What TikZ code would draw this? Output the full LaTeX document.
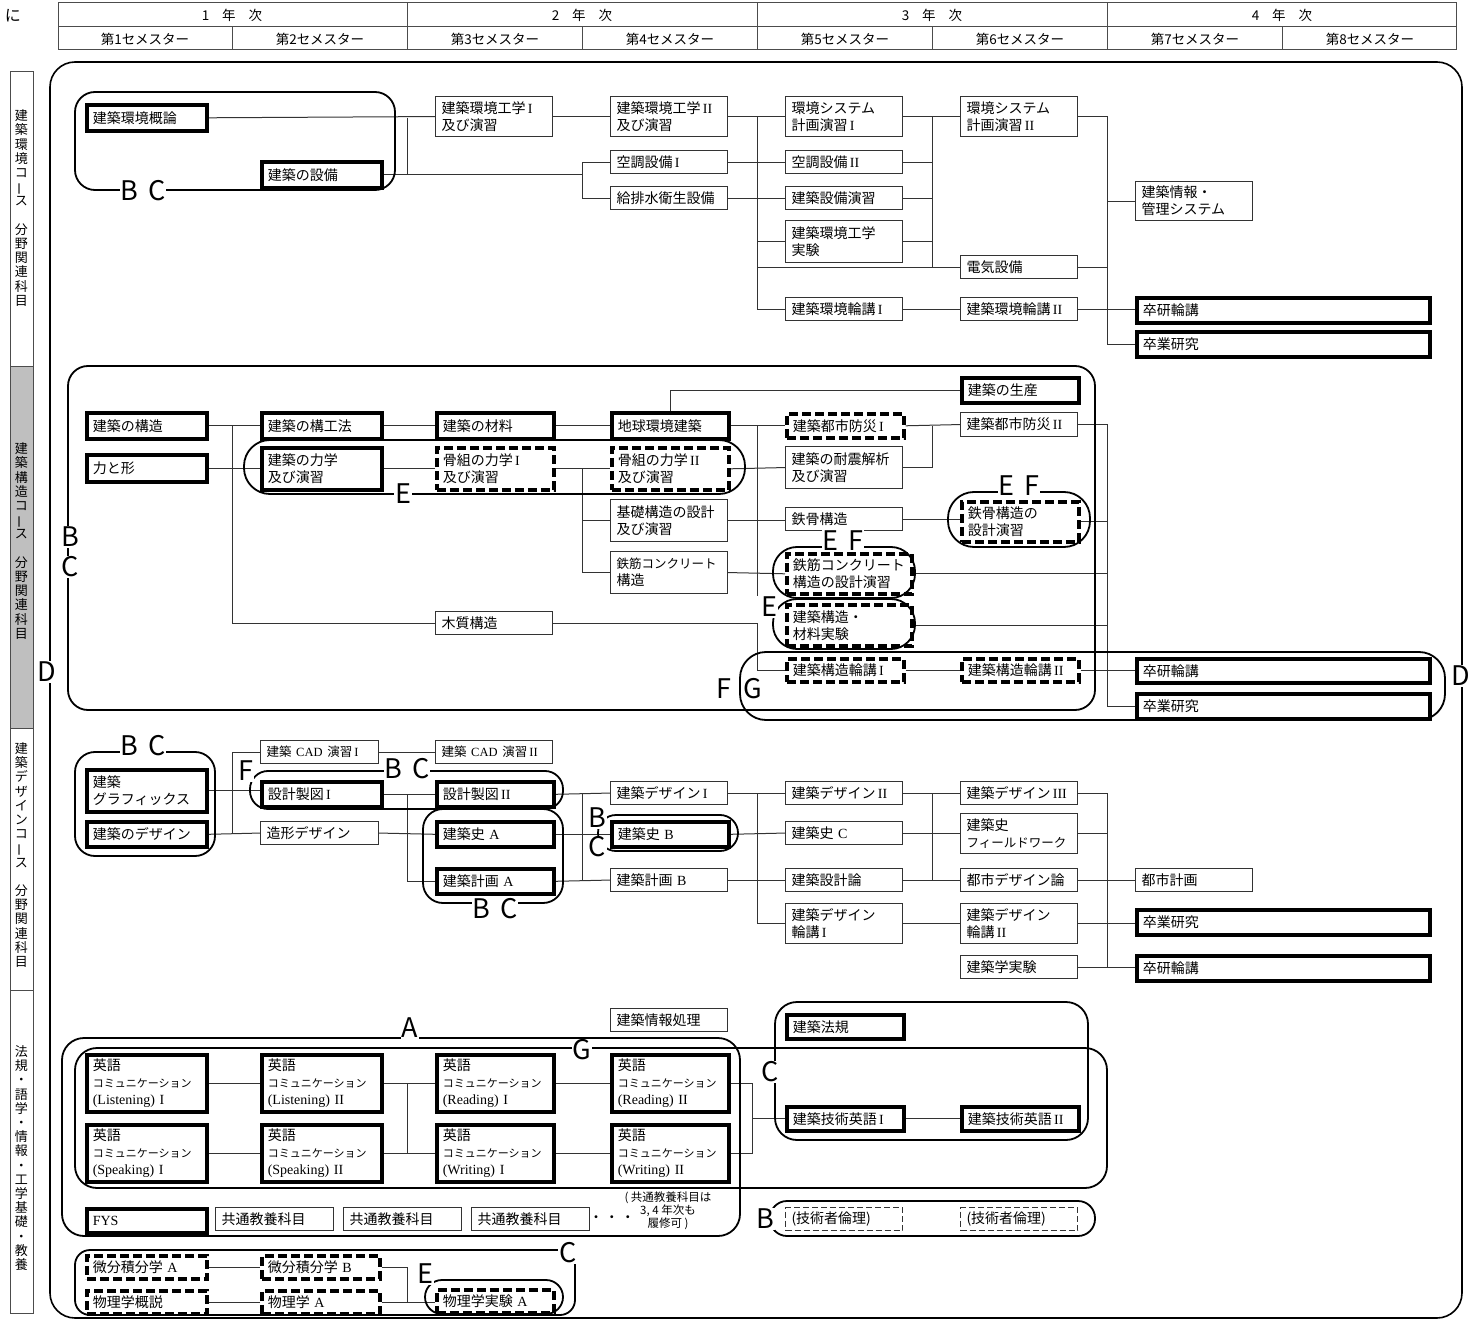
\documentclass[tikz,border=0pt]{standalone}
\usepackage{fontspec}
\setmainfont{Noto Sans CJK JP}
\newfontfamily\lat{Liberation Serif}
\pgfdeclarelayer{bg}
\pgfsetlayers{bg,main}
\newcommand\bxf{\fontsize{14}{17}\selectfont}
\newcommand\smf{\fontsize{11}{17}\selectfont}
\newcommand\narf{\fontsize{12.5}{17}\selectfont}
\newcommand\lblf{\fontsize{27}{27}\selectfont}
\newcommand\rnI{{\lat\,I}}
\newcommand\rnII{{\lat\,II}}
\newcommand\rnIII{{\lat\,III}}
\newcommand\myvbar{\rotatebox[origin=c]{90}{ー}}
\newcommand\bx[7]{%
 \pgfmathsetmacro\bxtw{#5-12}%
 \node[#1,anchor=north west,minimum width=#5pt,minimum height=#6pt,text width=\bxtw pt,align=left,inner xsep=6pt,inner ysep=0pt] (#2) at (#3,#4) {#7};}
\tikzset{
 tn/.style={draw=black!80, line width=1.1pt, fill=white, font=\bxf},
 tk/.style={draw=black, line width=3.6pt, fill=white, font=\bxf},
 ds/.style={draw=black, line width=3.6pt, dash pattern=on 9pt off 4pt, fill=white, font=\bxf},
 dt/.style={draw=black!80, line width=1pt, dash pattern=on 6pt off 3pt, fill=white, font=\bxf},
 cn/.style={draw=black!80, line width=1pt},
 grp/.style={draw=black, line width=1.8pt},
 lbl/.style={fill=white, inner sep=1pt, font=\lblf},
 hdl/.style={draw=black!70, line width=1pt},
 hdt/.style={font=\fontsize{13.5}{15}\selectfont, inner sep=0pt},
 vt/.style={font=\fontsize{13}{14.2}\selectfont, align=center, inner sep=0pt},
}
\begin{document}
\begin{tikzpicture}[x=1pt,y=-1pt]
\useasboundingbox (0,0) rectangle (1468,1321);
% junction coordinates
\coordinate (jz) at (232,0);
\coordinate (ja) at (407,0);
\coordinate (jb) at (582,0);
\coordinate (jc) at (757,0);
\coordinate (jd) at (932,0);
\coordinate (je) at (1107,0);
\coordinate (jf) at (752,0);

% ---------- header ----------
\node[hdt, font=\fontsize{16}{16}\selectfont] (lead) at (13,16) {に};
\draw[hdl] (58,3) rectangle (1456,50);
\draw[hdl] (58,27) -- (1456,27);
\foreach \x in {407,757,1107} \draw[hdl] (\x,3) -- (\x,50);
\foreach \x in {232,582,932,1282} \draw[hdl] (\x,27) -- (\x,50);
\node[hdt] (y1) at (232,15) {1\hspace{13pt}年\hspace{13pt}次};
\node[hdt] (y2) at (582,15) {2\hspace{13pt}年\hspace{13pt}次};
\node[hdt] (y3) at (932,15) {3\hspace{13pt}年\hspace{13pt}次};
\node[hdt] (y4) at (1282,15) {4\hspace{13pt}年\hspace{13pt}次};
\node[hdt] (s1) at (145,39) {第1セメスター};
\node[hdt] (s2) at (320,39) {第2セメスター};
\node[hdt] (s3) at (495,39) {第3セメスター};
\node[hdt] (s4) at (670,39) {第4セメスター};
\node[hdt] (s5) at (845,39) {第5セメスター};
\node[hdt] (s6) at (1020,39) {第6セメスター};
\node[hdt] (s7) at (1195,39) {第7セメスター};
\node[hdt] (s8) at (1370,39) {第8セメスター};

% ---------- sidebar ----------
\draw[hdl] (10,72) rectangle (33,367);
\draw[hdl, fill=black!25] (10,367) rectangle (33,728);
\draw[hdl] (10,728) rectangle (33,990);
\draw[hdl] (10,990) rectangle (33,1313);
\node[vt] (v1) at (21.5,208) {建\\築\\環\\境\\コ\\\myvbar\\ス\\~\\分\\野\\関\\連\\科\\目};
\node[vt] (v2) at (21.5,541) {建\\築\\構\\造\\コ\\\myvbar\\ス\\~\\分\\野\\関\\連\\科\\目};
\node[vt] (v3) at (21.5,855) {建\\築\\デ\\ザ\\イ\\ン\\コ\\\myvbar\\ス\\~\\分\\野\\関\\連\\科\\目};
\node[vt] (v4) at (21.5,1158) {法\\規\\・\\語\\学\\・\\情\\報\\・\\工\\学\\基\\礎\\・\\教\\養};

% ---------- outer D ----------
\draw[grp, line width=1.6pt, rounded corners=25pt] (50,62) rectangle (1462,1318);

% ---------- section 1 ----------
\bx{tk}{kg}{85}{103}{120}{26}{建築環境概論}
\bx{tk}{setsubi}{260}{160}{120}{26}{建築の設備}
\bx{tn}{kk1}{435}{96}{117}{40}{建築環境工学\rnI\\及び演習}
\bx{tn}{kk2}{610}{96}{117}{40}{建築環境工学\rnII\\及び演習}
\bx{tn}{ku1}{610}{150}{117}{23}{空調設備\rnI}
\bx{tn}{kyu}{610}{186}{117}{23}{給排水衛生設備}
\bx{tn}{ks1}{785}{96}{117}{40}{環境システム\\計画演習\rnI}
\bx{tn}{ku2}{785}{150}{117}{23}{空調設備\rnII}
\bx{tn}{sen}{785}{186}{117}{23}{建築設備演習}
\bx{tn}{kjk}{785}{220}{117}{42}{建築環境工学\\実験}
\bx{tn}{kr1}{785}{297}{117}{23}{建築環境輪講\rnI}
\bx{tn}{ks2}{960}{96}{117}{40}{環境システム\\計画演習\rnII}
\bx{tn}{den}{960}{255}{117}{23}{電気設備}
\bx{tn}{kr2}{960}{297}{117}{23}{建築環境輪講\rnII}
\bx{tn}{jkan}{1135}{181}{117}{39}{建築情報・\\管理システム}
\bx{tk}{sr1}{1135}{296}{293}{25}{卒研輪講}
\bx{tk}{sk1}{1135}{330}{293}{25}{卒業研究}

% ---------- section 2 ----------
\bx{tk}{kz}{85}{411}{120}{26}{建築の構造}
\bx{tk}{chk}{85}{453}{120}{27}{力と形}
\bx{tk}{kkh}{260}{411}{120}{26}{建築の構工法}
\bx{tk}{rk}{260}{446}{120}{42}{建築の力学\\及び演習}
\bx{tk}{zr}{435}{411}{117}{26}{建築の材料}
\bx{ds}{hr1}{435}{446}{117}{42}{骨組の力学\rnI\\及び演習}
\bx{tk}{ck}{610}{411}{117}{26}{地球環境建築}
\bx{ds}{hr2}{610}{446}{117}{42}{骨組の力学\rnII\\及び演習}
\bx{tn}{kso}{610}{499}{117}{42}{基礎構造の設計\\及び演習}
\bx{tn}{rc}{610}{551}{117}{42}{{\narf 鉄筋コンクリート}\\構造}
\bx{tn}{mok}{435}{611}{117}{23}{木質構造}
\bx{tk}{sei}{960}{376}{117}{25}{建築の生産}
\bx{ds}{bo1}{785}{412}{117}{24}{建築都市防災\rnI}
\bx{tn}{bo2}{960}{412}{117}{24}{建築都市防災\rnII}
\bx{tn}{tai}{785}{446}{117}{42}{建築の耐震解析\\及び演習}
\bx{tn}{tekk}{785}{507}{117}{23}{鉄骨構造}
\bx{ds}{tks}{960}{500}{117}{40}{鉄骨構造の\\設計演習}
\bx{ds}{rcs}{785}{552}{125}{40}{鉄筋コンクリート\\構造の設計演習}
\bx{ds}{jik}{785}{603}{125}{41}{建築構造・\\材料実験}
\bx{ds}{kr1s}{785}{657}{117}{23}{建築構造輪講\rnI}
\bx{ds}{kr2s}{960}{657}{117}{23}{建築構造輪講\rnII}
\bx{tk}{sr2}{1135}{657}{293}{24}{卒研輪講}
\bx{tk}{sk2}{1135}{692}{293}{25}{卒業研究}

% ---------- section 3 ----------
\bx{tk}{gra}{85}{768}{120}{42}{建築\\グラフィックス}
\bx{tk}{kde}{85}{820}{120}{25}{建築のデザイン}
\bx{tn}{cad1}{260}{740}{118}{23}{\mbox{\narf 建築{\lat\ CAD\ }演習\rnI}}
\bx{tn}{cad2}{435}{740}{117}{23}{\mbox{\narf 建築{\lat\ CAD\ }演習\rnII}}
\bx{tk}{sz1}{260}{780}{120}{25}{設計製図\rnI}
\bx{tk}{sz2}{435}{780}{117}{25}{設計製図\rnII}
\bx{tn}{zkd}{260}{821}{118}{23}{造形デザイン}
\bx{tk}{shA}{435}{820}{117}{25}{建築史{\lat\ A}}
\bx{tk}{kkA}{435}{867}{117}{25}{建築計画{\lat\ A}}
\bx{tn}{de1}{610}{781}{117}{23}{建築デザイン\rnI}
\bx{tk}{shB}{610}{820}{117}{25}{建築史{\lat\ B}}
\bx{tn}{kkB}{610}{868}{117}{23}{建築計画{\lat\ B}}
\bx{tn}{de2}{785}{781}{117}{23}{建築デザイン\rnII}
\bx{tn}{shC}{785}{821}{117}{23}{建築史{\lat\ C}}
\bx{tn}{sek}{785}{868}{117}{23}{建築設計論}
\bx{tn}{dr1}{785}{903}{117}{40}{建築デザイン\\輪講\rnI}
\bx{tn}{de3}{960}{781}{117}{23}{建築デザイン\rnIII}
\bx{tn}{fw}{960}{813}{117}{40}{建築史\\{\narf フィールドワーク}}
\bx{tn}{tdr}{960}{868}{117}{23}{都市デザイン論}
\bx{tn}{dr2}{960}{903}{117}{40}{建築デザイン\\輪講\rnII}
\bx{tn}{gj}{960}{955}{117}{23}{建築学実験}
\bx{tn}{tk2}{1135}{868}{117}{23}{都市計画}
\bx{tk}{sk3}{1135}{908}{293}{25}{卒業研究}
\bx{tk}{sr3}{1135}{954}{293}{25}{卒研輪講}

% ---------- section 4 ----------
\bx{tn}{jsh}{610}{1008}{117}{23}{建築情報処理}
\bx{tk}{eL1}{85}{1053}{120}{57}{英語\\{\smf コミュニケーション}\\{\lat (Listening) I}}
\bx{tk}{eL2}{260}{1053}{120}{57}{英語\\{\smf コミュニケーション}\\{\lat (Listening) II}}
\bx{tk}{eR1}{435}{1053}{117}{57}{英語\\{\smf コミュニケーション}\\{\lat (Reading) I}}
\bx{tk}{eR2}{610}{1053}{117}{57}{英語\\{\smf コミュニケーション}\\{\lat (Reading) II}}
\bx{tk}{eS1}{85}{1123}{120}{57}{英語\\{\smf コミュニケーション}\\{\lat (Speaking) I}}
\bx{tk}{eS2}{260}{1123}{120}{57}{英語\\{\smf コミュニケーション}\\{\lat (Speaking) II}}
\bx{tk}{eW1}{435}{1123}{117}{57}{英語\\{\smf コミュニケーション}\\{\lat (Writing) I}}
\bx{tk}{eW2}{610}{1123}{117}{57}{英語\\{\smf コミュニケーション}\\{\lat (Writing) II}}
\bx{tk}{ho}{785}{1013}{117}{24}{建築法規}
\bx{tk}{ge1}{785}{1105}{117}{24}{建築技術英語\rnI}
\bx{tk}{ge2}{960}{1105}{117}{24}{建築技術英語\rnII}
\bx{tk}{fys}{85}{1207}{120}{24}{{\lat FYS}}
\bx{tn}{ky1}{215}{1207}{118}{23}{共通教養科目}
\bx{tn}{ky2}{343}{1207}{118}{23}{共通教養科目}
\bx{tn}{ky3}{471}{1207}{118}{23}{共通教養科目}
\node[font=\bxf, inner sep=0pt] (dts) at (612,1219) {・\hspace{2pt}・\hspace{2pt}・};
\node[font=\fontsize{11.5}{13}\selectfont, align=center, inner sep=0pt] (nt) at (668,1211) {( 共通教養科目は\\3, 4 年次も\\履修可 )};
\bx{dt}{gr1}{785}{1207}{117}{23}{(技術者倫理)}
\bx{dt}{gr2}{960}{1207}{117}{23}{(技術者倫理)}
\bx{ds}{bA}{85}{1254}{120}{23}{微分積分学{\lat\ A}}
\bx{ds}{bB}{260}{1254}{118}{23}{微分積分学{\lat\ B}}
\bx{ds}{bg}{85}{1289}{120}{23}{物理学概説}
\bx{ds}{bfA}{260}{1289}{118}{23}{物理学{\lat\ A}}
\bx{ds}{bjA}{435}{1288}{117}{23}{物理学実験{\lat\ A}}

% ---------- connectors ----------
\begin{pgfonlayer}{bg}
% section 1
\draw[cn] (kg.east) -- (kk1.west);
\draw[cn] (kg.east -| ja) -- (setsubi.east -| ja);
\draw[cn] (setsubi.east) -- (setsubi.east -| jb);
\draw[cn] (ku1.west -| jb) -- (kyu.west -| jb);
\draw[cn] (ku1.west -| jb) -- (ku1.west);
\draw[cn] (kyu.west -| jb) -- (kyu.west);
\draw[cn] (kk1.east) -- (kk2.west);
\draw[cn] (kk2.east) -- (ks1.west);
\draw[cn] (ku1.east) -- (ku2.west);
\draw[cn] (kyu.east) -- (sen.west);
\draw[cn] (kk2.east -| jc) -- (kr1.west -| jc) -- (kr1.west);
\draw[cn] (kjk.west -| jc) -- (kjk.west);
\draw[cn] (den.west -| jc) -- (den.west);
\draw[cn] (ks1.east) -- (ks2.west);
\draw[cn] (ks1.east -| jd) -- (den.west -| jd);
\draw[cn] (ku2.east) -- (ku2.east -| jd);
\draw[cn] (sen.east) -- (sen.east -| jd);
\draw[cn] (kjk.east) -- (kjk.east -| jd);
\draw[cn] (kr1.east) -- (kr2.west);
\draw[cn] (ks2.east) -- (ks2.east -| je) -- (sk1.west -| je) -- (sk1.west);
\draw[cn] (den.east) -- (den.east -| je);
\draw[cn] (kr2.east) -- (kr2.east -| sr1.west);
\draw[cn] (jkan.west -| je) -- (jkan.west);
% section 2
\draw[cn] (kz.east) -- (kkh.west);
\draw[cn] (kz.east -| jz) -- (mok.west -| jz) -- (mok.west);
\draw[cn] (chk.east) -- (chk.east -| rk.west);
\draw[cn] (kkh.east) -- (zr.west);
\draw[cn] (rk.east) -- (hr1.west);
\draw[cn] (zr.east) -- (ck.west);
\draw[cn] (hr1.east) -- (hr2.west);
\draw[cn] (hr1.east -| jb) -- (rc.west -| jb) -- (rc.west);
\draw[cn] (kso.west -| jb) -- (kso.west);
\draw[cn] (ck.north) -- (ck.north |- sei.west) -- (sei.west);
\draw[cn] (ck.east) -- (bo1.west);
\draw[cn] (ck.east -| jc) -- (rcs.south -| jc);
\draw[cn] (mok.east) -- (mok.east -| jc) -- (kr1s.west -| jc) -- (kr1s.west);
\draw[cn] (hr2.east) -- (tai.west);
\draw[cn] (kso.east) -- (kso.east -| tekk.west);
\draw[cn] (rc.east) -- (rcs.west);
\draw[cn] (bo1.east) -- (bo2.west);
\draw[cn] (bo1.east -| jd) -- (tai.east -| jd) -- (tai.east);
\draw[cn] (tekk.east) -- (tekk.east -| tks.west);
\draw[cn] (bo2.east) -- (bo2.east -| je) -- (sk2.west -| je) -- (sk2.west);
\draw[cn] (tks.east) -- (tks.east -| je);
\draw[cn] (rcs.east) -- (rcs.east -| je);
\draw[cn] (jik.east) -- (jik.east -| je);
\draw[cn] (kr1s.east) -- (kr2s.west);
\draw[cn] (kr2s.east) -- (kr2s.east -| sr2.west);
% section 3
\draw[cn] (gra.east) -- (gra.east -| sz1.west);
\draw[cn] (cad1.west -| jz) -- (kde.east -| jz);
\draw[cn] (cad1.west -| jz) -- (cad1.west);
\draw[cn] (kde.east) -- (zkd.west);
\draw[cn] (cad1.east) -- (cad2.west);
\draw[cn] (sz1.east) -- (sz2.west);
\draw[cn] (sz1.east -| ja) -- (kkA.west -| ja) -- (kkA.west);
\draw[cn] (zkd.east) -- (shA.west);
\draw[cn] (sz2.east) -- (de1.west);
\draw[cn] (sz2.east -| jb) -- (kkA.east -| jb);
\draw[cn] (shA.east) -- (shB.west);
\draw[cn] (kkA.east) -- (kkB.west);
\draw[cn] (de1.east) -- (de2.west);
\draw[cn] (de1.east -| jc) -- (dr1.west -| jc) -- (dr1.west);
\draw[cn] (shB.east) -- (shC.west);
\draw[cn] (kkB.east) -- (sek.west);
\draw[cn] (de2.east) -- (de3.west);
\draw[cn] (de2.east -| jd) -- (sek.east -| jd);
\draw[cn] (shC.east) -- (shC.east -| fw.west);
\draw[cn] (sek.east) -- (tdr.west);
\draw[cn] (dr1.east) -- (dr2.west);
\draw[cn] (de3.east) -- (de3.east -| je) -- (gj.east -| je);
\draw[cn] (fw.east) -- (fw.east -| je);
\draw[cn] (tdr.east) -- (tk2.west);
\draw[cn] (dr2.east) -- (dr2.east -| sk3.west);
\draw[cn] (gj.east) -- (gj.east -| sr3.west);
% section 4
\draw[cn] (eL1.east) -- (eL2.west);
\draw[cn] (eS1.east) -- (eS2.west);
\draw[cn] (eL2.east) -- (eR1.west);
\draw[cn] (eS2.east) -- (eW1.west);
\draw[cn] (eL2.east -| ja) -- (eS2.east -| ja);
\draw[cn] (eR1.east) -- (eR2.west);
\draw[cn] (eW1.east) -- (eW2.west);
\draw[cn] (eR2.east) -- (eR2.east -| jf) -- (eW2.east -| jf) -- (eW2.east);
\draw[cn] (ge1.west -| jf) -- (ge1.west);
\draw[cn] (ge1.east) -- (ge2.west);
\draw[cn] (bA.east) -- (bB.west);
\draw[cn] (bg.east) -- (bfA.west);
\draw[cn] (bB.east) -- (bB.east -| ja) -- (bfA.east -| ja);
\draw[cn] (bfA.east) -- (bfA.east -| bjA.west);
\end{pgfonlayer}

% ---------- groups ----------
\draw[grp, rounded corners=20pt] (75,92) rectangle (395,190);
\draw[grp, rounded corners=20pt] (68,366) rectangle (1095,710);
\draw[grp, rounded corners=26pt] (244,440) rectangle (745,494);
\draw[grp, rounded corners=26pt] (948,492) rectangle (1090,547);
\draw[grp, rounded corners=24pt] (773,547) rectangle (915,598);
\draw[grp, rounded corners=24pt] (773,599) rectangle (915,649);
\draw[grp, rounded corners=26pt] (740,652) rectangle (1445,720);
\draw[grp, rounded corners=20pt] (75,752) rectangle (215,856);
\draw[grp, rounded corners=18pt] (250,771) rectangle (563,809);
\draw[grp, rounded corners=20pt] (423,809) rectangle (563,903);
\draw[grp, rounded corners=18pt] (598,815) rectangle (738,851);
\draw[grp, rounded corners=22pt] (62,1038) rectangle (740,1236);
\draw[grp, rounded corners=22pt] (75,1048) rectangle (1107,1188);
\draw[grp, rounded corners=22pt] (775,1002) rectangle (1088,1140);
\draw[grp, rounded corners=17pt] (770,1201) rectangle (1095,1236);
\draw[grp, rounded corners=15pt] (75,1250) rectangle (575,1315);
\draw[grp, rounded corners=17pt] (425,1280) rectangle (563,1314);

% ---------- labels ----------
\node[lbl] (lD1) at (47,672) {D};
\node[lbl] (lD2) at (1461,676) {D};
\node[lbl] (lBC1) at (143,191) {B\hspace{10pt}C};
\node[lbl] (lB2) at (70,537) {B};
\node[lbl] (lC2) at (70,567) {C};
\node[lbl] (lE2) at (403,494) {E};
\node[lbl] (lEF1) at (1019,486) {E\hspace{10pt}F};
\node[lbl] (lEF2) at (843,541) {E\hspace{10pt}F};
\node[lbl] (lE3) at (769,607) {E};
\node[lbl, fill=none] (lF4) at (724,689) {F};
\node[lbl] (lG4) at (753,689) {G};
\node[lbl] (lBC3) at (143,746) {B\hspace{10pt}C};
\node[lbl] (lF5) at (246,771) {F};
\node[lbl] (lBC5) at (407,769) {B\hspace{10pt}C};
\node[lbl] (lBC6) at (495,909) {B\hspace{10pt}C};
\node[lbl] (lB7) at (597,818) {B};
\node[lbl] (lC7) at (597,847) {C};
\node[lbl] (lA) at (410,1028) {A};
\node[lbl] (lG) at (582,1050) {G};
\node[lbl] (lC8) at (770,1072) {C};
\node[lbl] (lB9) at (765,1219) {B};
\node[lbl] (lC10) at (568,1253) {C};
\node[lbl] (lE10) at (425,1274) {E};
\end{tikzpicture}
\end{document}
